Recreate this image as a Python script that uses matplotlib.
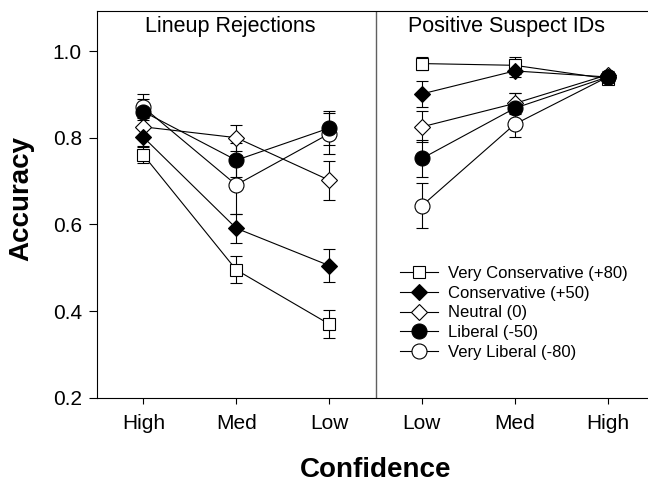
import matplotlib
matplotlib.use("Agg")
import matplotlib.pyplot as plt
from matplotlib.lines import Line2D

plt.rcParams['font.family'] = ['Liberation Sans', 'DejaVu Sans']

# ---------------- data ----------------
series_names = ["Very Conservative (+80)", "Conservative (+50)", "Neutral (0)",
                "Liberal (-50)", "Very Liberal (-80)"]
left_labels = ["High", "Med", "Low"]      # Lineup Rejections
right_labels = ["Low", "Med", "High"]     # Positive Suspect IDs

# Lineup Rejections (High, Med, Low)
vc_left = [0.760, 0.495, 0.370]
vc_left_err = [0.018, 0.031, 0.033]
c_left = [0.801, 0.591, 0.505]
c_left_err = [0.020, 0.033, 0.039]
n_left = [0.825, 0.800, 0.702]
n_left_err = [0.020, 0.030, 0.045]
l_left = [0.860, 0.748, 0.822]
l_left_err = [0.030, 0.039, 0.040]
vl_left = [0.870, 0.691, 0.809]
vl_left_err = [0.030, 0.068, 0.047]

# Positive Suspect IDs (Low, Med, High)
vc_right = [0.971, 0.967, 0.936]
vc_right_err = [0.015, 0.020, 0.010]
c_right = [0.901, 0.954, 0.940]
c_right_err = [0.030, 0.015, 0.010]
n_right = [0.825, 0.879, 0.945]
n_right_err = [0.036, 0.025, 0.010]
l_right = [0.752, 0.868, 0.940]
l_right_err = [0.043, 0.034, 0.010]
vl_right = [0.643, 0.831, 0.940]
vl_right_err = [0.052, 0.030, 0.010]

panel_titles = ["Lineup Rejections", "Positive Suspect IDs"]
y_ticks = [0.2, 0.4, 0.6, 0.8, 1.0]

# ---------------- figure ----------------
W, H = 648, 483
fig = plt.figure(figsize=(W / 100, H / 100), dpi=100)
ax_l, ax_r, ax_t, ax_b = 97, 654, 10.7, 397.7
ax = fig.add_axes([ax_l / W, 1 - ax_b / H, (ax_r - ax_l) / W, (ax_b - ax_t) / H])

styles = {
    "Very Conservative (+80)": dict(marker='s', ms=9.3, mfc='white'),
    "Conservative (+50)": dict(marker='D', ms=7.8, mfc='black'),
    "Neutral (0)": dict(marker='D', ms=7.8, mfc='white'),
    "Liberal (-50)": dict(marker='o', ms=10.8, mfc='black'),
    "Very Liberal (-80)": dict(marker='o', ms=10.8, mfc='white'),
}
data = {
    "Very Conservative (+80)": (vc_left, vc_left_err, vc_right, vc_right_err),
    "Conservative (+50)": (c_left, c_left_err, c_right, c_right_err),
    "Neutral (0)": (n_left, n_left_err, n_right, n_right_err),
    "Liberal (-50)": (l_left, l_left_err, l_right, l_right_err),
    "Very Liberal (-80)": (vl_left, vl_left_err, vl_right, vl_right_err),
}

xl = [0, 1, 2]
xr = [3, 4, 5]
draw_order = ["Very Conservative (+80)", "Neutral (0)", "Very Liberal (-80)",
              "Conservative (+50)", "Liberal (-50)"]
for name in draw_order:
    st = styles[name]
    yl, el, yr, er = data[name]
    for xs, ys, es in ((xl, yl, el), (xr, yr, er)):
        ax.errorbar(xs, ys, yerr=es, color='black', lw=0.8, elinewidth=0.8,
                    capsize=4.3, capthick=0.8, marker=st['marker'], ms=st['ms'],
                    mfc=st['mfc'], mec='black', mew=0.8)

ax.axvline(2.5, color='#606060', lw=1.0)

ax.set_xlim(-0.5, 5.5)
ax.set_ylim(0.2, 1.093)
ax.set_yticks(y_ticks)
ax.set_yticklabels([f"{v:.1f}" for v in y_ticks])
ax.set_xticks(xl + xr)
ax.set_xticklabels(left_labels + right_labels)
ax.tick_params(axis='y', direction='out', length=5.8, width=0.8, labelsize=15, pad=5)
ax.tick_params(axis='x', direction='out', length=4.3, width=0.8, labelsize=15, pad=7.5)
for sp in ax.spines.values():
    sp.set_linewidth(0.8)
ax.spines['right'].set_visible(False)

ax.text(0.94, 1.043, panel_titles[0], ha='center', va='baseline', fontsize=15.5)
ax.text(3.906, 1.043, panel_titles[1], ha='center', va='baseline', fontsize=15.5)

fig.text(21.5 / W, 1 - 199 / H, "Accuracy", rotation=90, ha='center', va='center',
         fontsize=20, fontweight='bold')
fig.text(376 / W, 1 - 476.7 / H, "Confidence", ha='center', va='baseline',
         fontsize=20, fontweight='bold')

handles = [Line2D([0], [0], color='black', lw=0.8, marker=styles[n]['marker'],
                  ms=styles[n]['ms'], mfc=styles[n]['mfc'], mec='black', mew=0.8)
           for n in series_names]
ax.legend(handles, series_names, loc='upper left',
          bbox_to_anchor=((400 - ax_l) / (ax_r - ax_l), (ax_b - 266.1) / (ax_b - ax_t)),
          frameon=False, fontsize=12, borderpad=0, borderaxespad=0,
          handlelength=2.28, handletextpad=0.6, labelspacing=0.28)

fig.savefig("out.png", dpi=100)
